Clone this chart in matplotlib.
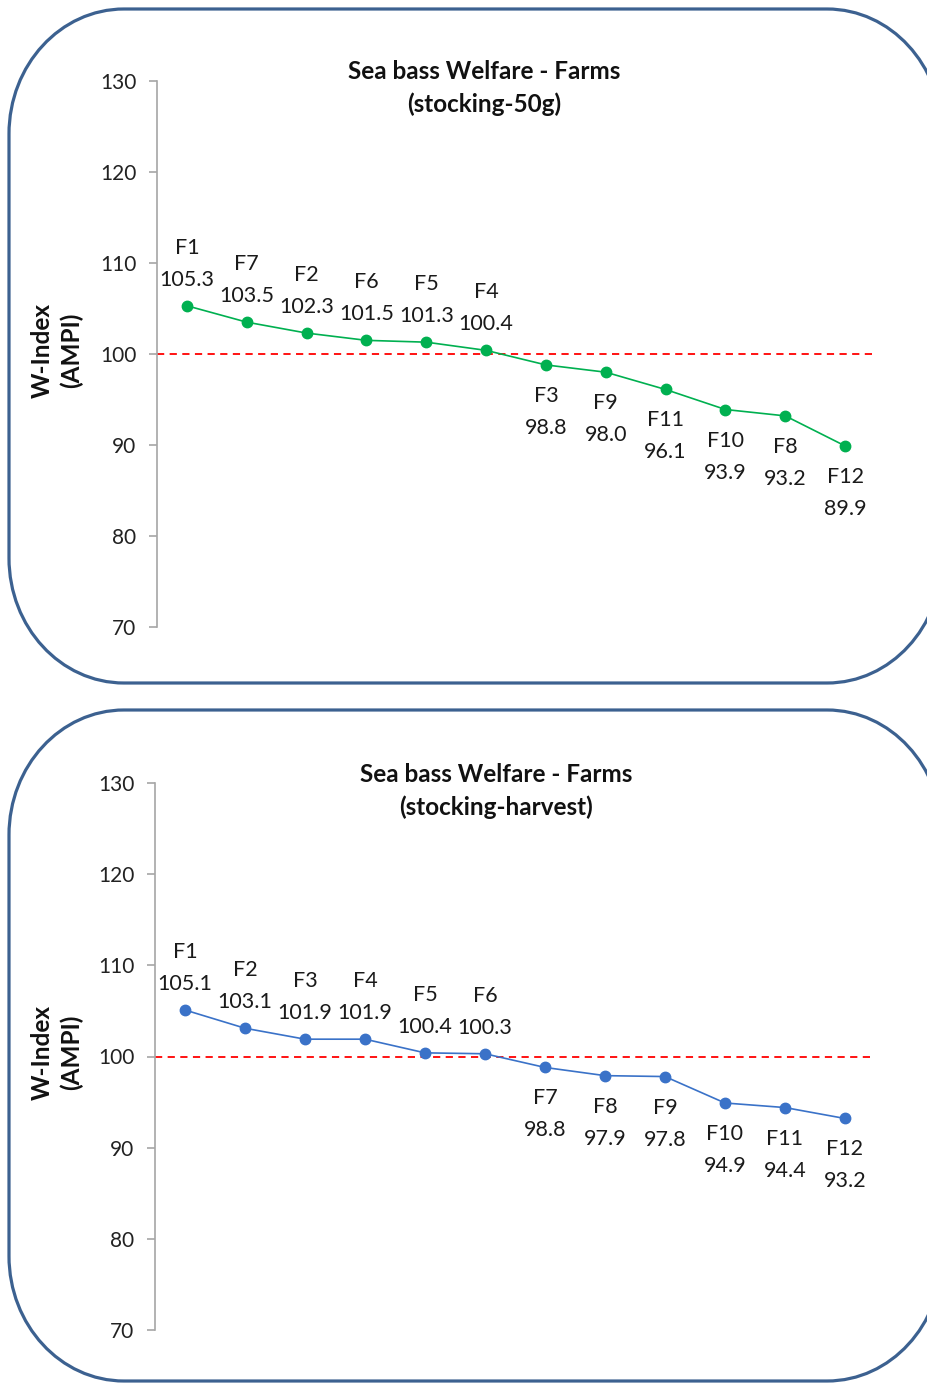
import matplotlib
matplotlib.use("Agg")
import matplotlib.pyplot as plt
from matplotlib.path import Path
from matplotlib.patches import PathPatch

# ---- data ----
top_title = "Sea bass Welfare - Farms\n(stocking-50g)"
top_farms = ["F1", "F7", "F2", "F6", "F5", "F4", "F3", "F9", "F11", "F10", "F8", "F12"]
top_values = [105.3, 103.5, 102.3, 101.5, 101.3, 100.4, 98.8, 98.0, 96.1, 93.9, 93.2, 89.9]

bot_title = "Sea bass Welfare - Farms\n(stocking-harvest)"
bot_farms = ["F1", "F2", "F3", "F4", "F5", "F6", "F7", "F8", "F9", "F10", "F11", "F12"]
bot_values = [105.1, 103.1, 101.9, 101.9, 100.4, 100.3, 98.8, 97.9, 97.8, 94.9, 94.4, 93.2]

y_ticks = [70, 80, 90, 100, 110, 120, 130]
y_label = "W-Index\n(AMPI)"
threshold = 100

W, H = 928, 1383
plt.rcParams['font.family'] = ['Lato', 'DejaVu Sans']
fig = plt.figure(figsize=(W / 100, H / 100), dpi=100)

# overlay axes in pixel coordinates for frames
bg = fig.add_axes([0, 0, 1, 1])
bg.set_xlim(0, W)
bg.set_ylim(H, 0)
bg.axis('off')


def rounded_frame(ax, x0, y0, x1, y1, rx, ry, color):
    k = 0.5523
    verts = [
        (x0 + rx, y0), (x1 - rx, y0),
        (x1 - rx + k * rx, y0), (x1, y0 + ry - k * ry), (x1, y0 + ry),
        (x1, y1 - ry),
        (x1, y1 - ry + k * ry), (x1 - rx + k * rx, y1), (x1 - rx, y1),
        (x0 + rx, y1),
        (x0 + rx - k * rx, y1), (x0, y1 - ry + k * ry), (x0, y1 - ry),
        (x0, y0 + ry),
        (x0, y0 + ry - k * ry), (x0 + rx - k * rx, y0), (x0 + rx, y0),
        (x0 + rx, y0),
    ]
    codes = [Path.MOVETO, Path.LINETO,
             Path.CURVE4, Path.CURVE4, Path.CURVE4,
             Path.LINETO,
             Path.CURVE4, Path.CURVE4, Path.CURVE4,
             Path.LINETO,
             Path.CURVE4, Path.CURVE4, Path.CURVE4,
             Path.LINETO,
             Path.CURVE4, Path.CURVE4, Path.CURVE4,
             Path.CLOSEPOLY]
    ax.add_patch(PathPatch(Path(verts, codes), facecolor='white',
                           edgecolor=color, lw=2.3, clip_on=False))


frame_color = '#3C6190'
rounded_frame(bg, 9, 9, 942, 683, 115, 125, frame_color)
rounded_frame(bg, 9, 710, 942, 1381, 115, 125, frame_color)


def panel(rect, title, farms, values, color, title_xy):
    ax = fig.add_axes(rect)
    ax.patch.set_alpha(0)
    x = list(range(len(farms)))
    ax.plot(x, values, '-o', color=color, lw=1.2, ms=7.5, zorder=3)
    ax.axhline(threshold, color='#FF0000', lw=1.3, ls=(0, (4, 3)), zorder=2)
    ax.set_xlim(-0.5, len(farms) - 0.5)
    ax.set_ylim(min(y_ticks), max(y_ticks))
    ax.set_yticks(y_ticks)
    ax.set_xticks([])
    for s in ['top', 'right', 'bottom']:
        ax.spines[s].set_visible(False)
    ax.spines['left'].set_color('#A6A6A6')
    ax.spines['left'].set_linewidth(1.2)
    ax.tick_params(axis='y', direction='out', length=6, width=1.2,
                   color='#A6A6A6', labelsize=15, pad=9, labelcolor='#222222')
    for xi, name, v in zip(x, farms, values):
        if v > threshold:
            offs = (58, 26)
        else:
            offs = (-31, -63)
        ax.annotate(name, (xi, v), xytext=(0, offs[0]), textcoords='offset pixels',
                    ha='center', va='center', fontsize=15.5, color='#1a1a1a')
        ax.annotate(f"{v:.1f}", (xi, v), xytext=(0, offs[1]), textcoords='offset pixels',
                    ha='center', va='center', fontsize=15.5, color='#1a1a1a')
    fig.text(title_xy[0] / W, 1 - title_xy[1] / H, title, ha='center', va='center',
             fontsize=17.5, fontweight='bold', linespacing=1.45, color='#111111')
    return ax


def rect_px(x0, y_top, x1, y_bot):
    return [x0 / W, 1 - y_bot / H, (x1 - x0) / W, (y_bot - y_top) / H]


ax1 = panel(rect_px(157, 81, 875, 627), top_title, top_farms, top_values, '#00B050', (484, 88))
ax2 = panel(rect_px(155, 783, 875, 1330), bot_title, bot_farms, bot_values, '#3A72C8', (496, 791))

for ax, yc in [(ax1, 350), (ax2, 1052)]:
    fig.text(57 / W, 1 - yc / H, y_label, rotation=90, ha='center', va='center',
             fontsize=17.5, fontweight='bold', linespacing=1.25, color='#111111')

fig.savefig('out.png', dpi=100)
